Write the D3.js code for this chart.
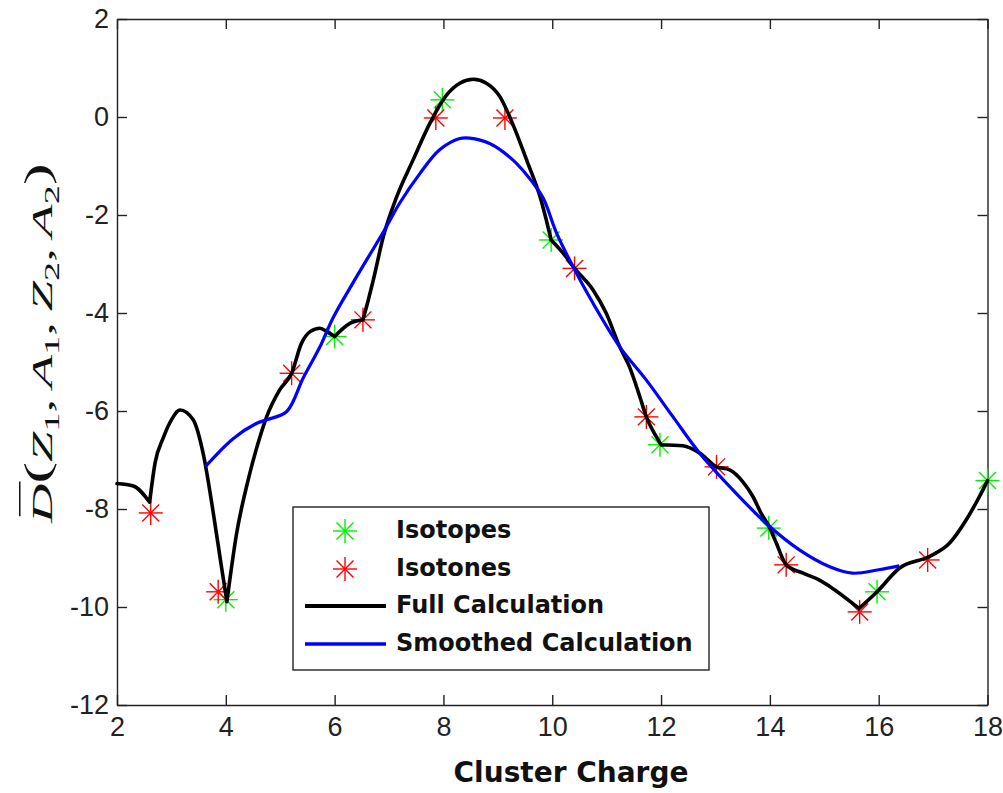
<!DOCTYPE html>
<html>
<head>
<meta charset="utf-8">
<script src="https://cdn.jsdelivr.net/npm/d3@7"></script>
<style>
  body { margin: 0; background: #fff; }
  svg { display: block; }
</style>
</head>
<body>
<svg id="chart" width="1003" height="793"></svg>
<script>
// Axis ticks
const xTicks = [2, 4, 6, 8, 10, 12, 14, 16, 18];
const yTicks = [2, 0, -2, -4, -6, -8, -10, -12];

// Full calculation (sharp corners at the listed cusp positions)
const fullX = [2.0, 2.3, 2.6, 2.7, 2.85, 3.0, 3.16, 3.4, 3.59, 3.77, 3.92, 4.02,
  4.2, 4.41, 4.63, 4.75, 4.99, 5.21, 5.39, 5.55, 5.73, 5.86, 6.0,
  6.28, 6.52, 6.62, 6.71, 6.9, 7.14, 7.44, 7.75, 8.06, 8.3, 8.55, 8.79, 9.04,
  9.28, 9.53, 9.8, 9.89, 9.98, 10.2, 10.41, 10.75, 10.99, 11.24, 11.42, 11.61,
  11.73, 11.91, 12.0, 12.4, 12.71, 13.02, 13.26, 13.5, 13.69, 13.84, 14.0, 14.12,
  14.3, 14.61, 14.91, 15.1, 15.64, 15.97, 16.38, 16.93, 17.3, 17.61, 17.85, 18.0];
const fullY = [-7.48, -7.53, -7.86, -7.06, -6.55, -6.18, -5.98, -6.18, -6.9, -8.08, -9.18, -9.89,
  -8.49, -7.41, -6.52, -6.12, -5.57, -5.23, -4.62, -4.38, -4.31, -4.38, -4.48,
  -4.21, -4.14, -3.73, -3.33, -2.42, -1.63, -0.88, -0.13, 0.45, 0.69, 0.77, 0.69, 0.41,
  -0.16, -0.88, -1.72, -2.1, -2.51, -2.78, -3.09, -3.53, -4.0, -4.69, -5.1, -5.71,
  -6.12, -6.52, -6.69, -6.71, -6.86, -7.14, -7.2, -7.44, -7.75, -8.09, -8.39, -8.7,
  -9.14, -9.31, -9.45, -9.58, -10.03, -9.69, -9.21, -8.97, -8.7, -8.22, -7.75, -7.42];
const fullCusps = [2.6, 4.02, 6.0, 6.52, 9.98, 12.0, 15.64];

// Smoothed calculation
const smoothX = [3.62, 4.14, 4.57, 4.75, 5.12, 5.42, 5.73, 5.97, 6.34, 6.92, 7.2, 7.57,
  7.93, 8.3, 8.48, 8.85, 9.28, 9.65, 9.84, 10.08, 10.38, 10.75, 11.24, 11.73, 12.22,
  12.71, 13.32, 13.93, 14.55, 15.1, 15.52, 16.0, 16.38];
const smoothY = [-7.14, -6.56, -6.25, -6.18, -6.01, -5.33, -4.69, -4.1, -3.38, -2.3, -1.75, -1.15,
  -0.67, -0.44, -0.43, -0.54, -0.88, -1.35, -1.67, -2.37, -3.05, -3.8, -4.69, -5.37, -6.12,
  -6.86, -7.61, -8.29, -8.84, -9.18, -9.31, -9.24, -9.16];

// Isotopes and isotones
const isotopeX = [4.0, 6.0, 7.98, 9.98, 11.98, 13.98, 15.97, 18.0];
const isotopeY = [-9.85, -4.48, 0.35, -2.51, -6.69, -8.39, -9.69, -7.42];
const isotoneX = [2.62, 3.86, 5.21, 6.52, 7.86, 9.13, 10.41, 11.73, 13.02, 14.3, 15.65, 16.9];
const isotoneY = [-8.08, -9.69, -5.23, -4.14, -0.02, -0.02, -3.09, -6.12, -7.14, -9.14, -10.1, -9.04];

const legendItems = ["Isotopes", "Isotones", "Full Calculation", "Smoothed Calculation"];

const svg = d3.select("#chart");
const plotLeft = 117, plotRight = 987.5, plotTop = 19, plotBottom = 705;
const x = d3.scaleLinear().domain([2, 18]).range([plotLeft, plotRight]);
const y = d3.scaleLinear().domain([-12, 2]).range([plotBottom, plotTop]);

const axisColor = "#222";
const tickFont = "'Liberation Sans', Arial, Helvetica, sans-serif";
const plainNum = d => String(d);

// Axes with inward ticks on all four sides
function styleAxis(g) {
  g.select(".domain").attr("stroke", axisColor).attr("stroke-width", 1.4);
  g.selectAll(".tick line").attr("stroke", axisColor).attr("stroke-width", 1.4);
  g.selectAll(".tick text").attr("fill", axisColor)
    .attr("font-family", tickFont).attr("font-size", 27);
}
svg.append("g").attr("transform", `translate(0,${plotBottom})`)
  .call(d3.axisBottom(x).tickValues(xTicks).tickFormat(plainNum)
    .tickSizeInner(-10).tickSizeOuter(0).tickPadding(12))
  .call(styleAxis)
  .call(g => g.selectAll(".tick text").attr("dy", "0.72em"));
svg.append("g").attr("transform", `translate(0,${plotTop})`)
  .call(d3.axisTop(x).tickValues(xTicks).tickSizeInner(-10).tickSizeOuter(0).tickFormat(""))
  .call(styleAxis);
svg.append("g").attr("transform", `translate(${plotLeft},0)`)
  .call(d3.axisLeft(y).tickValues(yTicks).tickFormat(plainNum)
    .tickSizeInner(-10).tickSizeOuter(0).tickPadding(8))
  .call(styleAxis);
svg.append("g").attr("transform", `translate(${plotRight},0)`)
  .call(d3.axisRight(y).tickValues(yTicks).tickSizeInner(-10).tickSizeOuter(0).tickFormat(""))
  .call(styleAxis);

// Asterisk marker
function star(g, cx, cy, color) {
  const r = 12, d = r / Math.SQRT2;
  const s = g.append("g").attr("stroke", color).attr("stroke-width", 1.4).attr("fill", "none");
  s.append("line").attr("x1", cx - r).attr("x2", cx + r).attr("y1", cy).attr("y2", cy);
  s.append("line").attr("x1", cx).attr("x2", cx).attr("y1", cy - r).attr("y2", cy + r);
  s.append("line").attr("x1", cx - d).attr("x2", cx + d).attr("y1", cy - d).attr("y2", cy + d);
  s.append("line").attr("x1", cx - d).attr("x2", cx + d).attr("y1", cy + d).attr("y2", cy - d);
}
const green = "#00f000", red = "#ff0000";

const marks = svg.append("g");
isotopeX.forEach((v, i) => star(marks, x(v), y(isotopeY[i]), green));
isotoneX.forEach((v, i) => star(marks, x(v), y(isotoneY[i]), red));

// Full calculation, split into smooth pieces between cusps
const pieces = [];
let piece = [];
fullX.forEach((v, i) => {
  piece.push([v, fullY[i]]);
  if (i > 0 && i < fullX.length - 1 && fullCusps.includes(v)) {
    pieces.push(piece);
    piece = [[v, fullY[i]]];
  }
});
pieces.push(piece);
const lineFull = d3.line().x(d => x(d[0])).y(d => y(d[1])).curve(d3.curveMonotoneX);
svg.append("path")
  .attr("d", pieces.map(p => lineFull(p)).join(""))
  .attr("fill", "none").attr("stroke", "#000").attr("stroke-width", 3.6)
  .attr("stroke-linejoin", "round").attr("stroke-linecap", "round");

const lineSmooth = d3.line().x(d => x(d[0])).y(d => y(d[1])).curve(d3.curveCatmullRom.alpha(0.5));
svg.append("path")
  .attr("d", lineSmooth(smoothX.map((v, i) => [v, smoothY[i]])))
  .attr("fill", "none").attr("stroke", "#0000ff").attr("stroke-width", 3.2)
  .attr("stroke-linejoin", "round");

// Legend
const boldFont = "'DejaVu Sans', Verdana, sans-serif";
const lg = svg.append("g");
lg.append("rect").attr("x", 293).attr("y", 507).attr("width", 416).attr("height", 163)
  .attr("fill", "#fff").attr("stroke", axisColor).attr("stroke-width", 1.4);
const rowY = [531, 569, 606, 644];
star(lg, 345, rowY[0], green);
star(lg, 345, rowY[1], red);
lg.append("line").attr("x1", 305).attr("x2", 386).attr("y1", rowY[2]).attr("y2", rowY[2])
  .attr("stroke", "#000").attr("stroke-width", 4);
lg.append("line").attr("x1", 305).attr("x2", 386).attr("y1", rowY[3]).attr("y2", rowY[3])
  .attr("stroke", "#0000ff").attr("stroke-width", 3.4);
legendItems.forEach((t, i) => {
  lg.append("text").attr("x", 396).attr("y", rowY[i] + 7)
    .attr("font-family", boldFont).attr("font-weight", "bold").attr("font-size", 24)
    .attr("fill", "#111").text(t);
});

// X-axis title
svg.append("text").attr("x", 571).attr("y", 782).attr("text-anchor", "middle")
  .attr("font-family", boldFont).attr("font-weight", "bold").attr("font-size", 28)
  .attr("fill", "#111").text("Cluster Charge");

// Y-axis title: D-bar(Z1, A1, Z2, A2) in math style
const serif = "'Liberation Serif', 'Times New Roman', serif";
const yl = svg.append("g");
const inner = yl.append("g");
const yt = inner.append("text").attr("font-family", serif).attr("font-size", 48).attr("fill", "#111");
const parts = [
  ["D", "italic"], ["(", "paren"],
  ["Z", "italic"], ["1", "sub"], [",\u2009", "normal"],
  ["A", "italic"], ["1", "sub"], [",\u2009", "normal"],
  ["Z", "italic"], ["2", "sub"], [",\u2009", "normal"],
  ["A", "italic"], ["2", "sub"], [")", "paren"]
];
let shift = 0;
parts.forEach(([txt, kind]) => {
  const ts = yt.append("tspan").text(txt);
  let target = 0;
  if (kind === "italic") ts.attr("font-style", "italic");
  if (kind === "sub") { ts.attr("font-size", 34); target = 12; }
  if (kind === "paren") { ts.attr("font-size", 58); target = -5; }
  if (target !== shift) ts.attr("dy", target - shift);
  shift = target;
});
const L = yt.node().getComputedTextLength();
const dBox = yt.node().getExtentOfChar(0);
inner.append("line")
  .attr("x1", dBox.x + 6).attr("x2", dBox.x + dBox.width + 2)
  .attr("y1", -52).attr("y2", -52)
  .attr("stroke", "#111").attr("stroke-width", 2.4);
const sx = 360 / L, sy = 0.62;
yl.attr("transform", `translate(52,343) rotate(-90) scale(${sx},${sy}) translate(${-L / 2},0)`);
</script>
</body>
</html>
